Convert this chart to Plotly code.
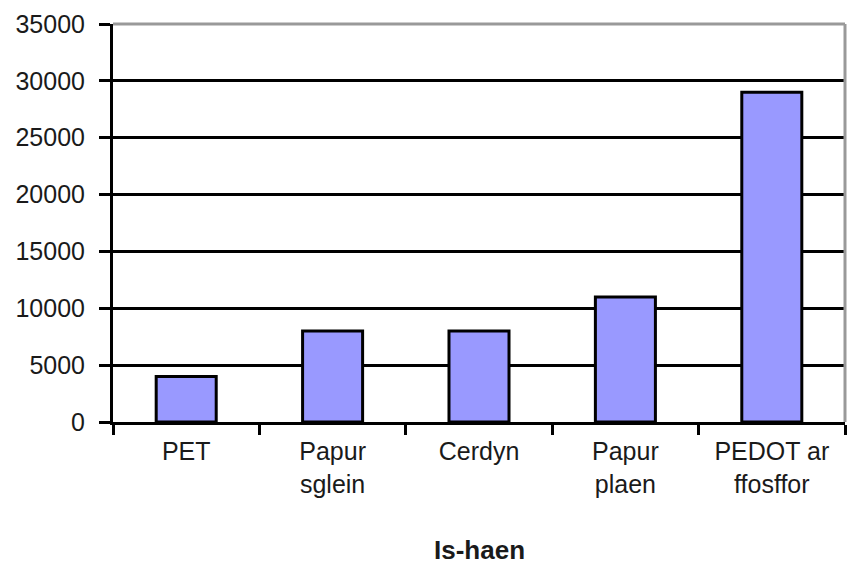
import plotly.graph_objects as go

categories = ["PET", "Papur<br>sglein", "Cerdyn", "Papur<br>plaen", "PEDOT ar<br>ffosffor"]
values = [4000, 8000, 8000, 11000, 29000]
y_ticks = [0, 5000, 10000, 15000, 20000, 25000, 30000, 35000]
y_tick_labels = [str(v) for v in y_ticks]
x_title = "Is-haen"

FONT = "Liberation Sans, Arial, sans-serif"

fig = go.Figure(go.Bar(
    x=categories, y=values,
    marker=dict(color="#9999FF", line=dict(color="black", width=3)),
    width=0.41,
))

fig.update_layout(
    width=849, height=564,
    margin=dict(l=113, r=4, t=24, b=142, autoexpand=False),
    paper_bgcolor="white", plot_bgcolor="white",
    showlegend=False,
    font=dict(family=FONT, color="#1a1a1a", size=24),
    xaxis=dict(
        type="category", tickson="boundaries", automargin=False,
        showline=True, linecolor="black", linewidth=3,
        ticks="outside", ticklen=10, tickwidth=3, tickcolor="black",
        showgrid=False, ticklabelstandoff=5,
        tickfont=dict(size=25),
    ),
    yaxis=dict(
        range=[0, 35000], tickvals=y_ticks, ticktext=y_tick_labels, automargin=False,
        showline=True, linecolor="black", linewidth=3,
        ticks="outside", ticklen=11, tickwidth=3, tickcolor="black",
        showgrid=True, gridcolor="black", gridwidth=2.5,
        zeroline=False, ticklabelstandoff=9,
        tickfont=dict(size=25),
    ),
    annotations=[
        dict(text="<b>" + x_title + "</b>", xref="paper", yref="paper", x=0.5, y=0,
             xanchor="center", yanchor="middle", yshift=-128, showarrow=False,
             font=dict(size=26, color="#1a1a1a")),
    ],
    shapes=[
        dict(type="line", xref="paper", yref="paper", x0=0, x1=1, y0=1, y1=1,
             line=dict(color="#999", width=3), layer="above"),
        dict(type="line", xref="paper", yref="paper", x0=1, x1=1, y0=0, y1=1,
             line=dict(color="#999", width=3), layer="above"),
    ],
)

fig.write_html("out.html", config={"displayModeBar": False},
               post_script="document.body.style.margin='0';")
